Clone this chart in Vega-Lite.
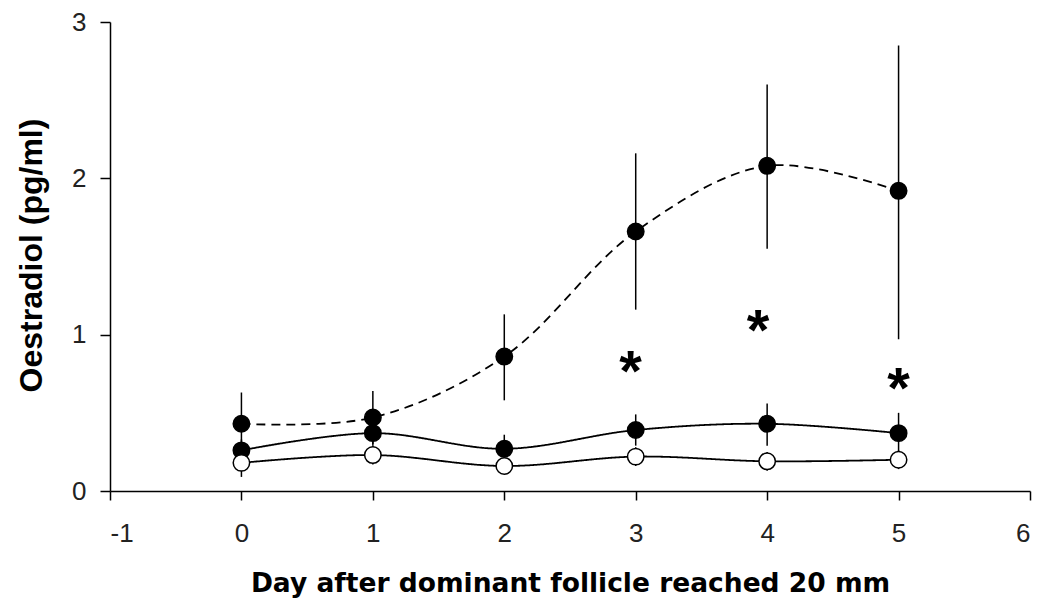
{
  "$schema": "https://vega.github.io/schema/vega-lite/v6.json",
  "width": 920,
  "height": 469,
  "autosize": {"type": "none"},
  "padding": {"left": 110, "top": 22, "right": 12, "bottom": 114},
  "background": "white",
  "config": {
    "view": {"stroke": null},
    "axis": {
      "domainColor": "black",
      "domainWidth": 1.5,
      "tickColor": "black",
      "tickWidth": 1.5,
      "grid": false,
      "labelColor": "#222222",
      "titleColor": "black",
      "labelFont": "Liberation Sans",
      "labelFontSize": 26,
      "labelExpr": "'' + datum.value"
    }
  },
  "datasets": {
    "groups": [
      {"day": 0, "group": "A", "mean": 0.43, "lo": 0.23, "hi": 0.63},
      {"day": 1, "group": "A", "mean": 0.47, "lo": 0.30, "hi": 0.64},
      {"day": 2, "group": "A", "mean": 0.86, "lo": 0.58, "hi": 1.13},
      {"day": 3, "group": "A", "mean": 1.66, "lo": 1.16, "hi": 2.16},
      {"day": 4, "group": "A", "mean": 2.08, "lo": 1.55, "hi": 2.60},
      {"day": 5, "group": "A", "mean": 1.92, "lo": 0.97, "hi": 2.85},
      {"day": 0, "group": "B", "mean": 0.26, "lo": 0.19, "hi": 0.33},
      {"day": 1, "group": "B", "mean": 0.37, "lo": 0.29, "hi": 0.45},
      {"day": 2, "group": "B", "mean": 0.27, "lo": 0.18, "hi": 0.36},
      {"day": 3, "group": "B", "mean": 0.39, "lo": 0.29, "hi": 0.49},
      {"day": 4, "group": "B", "mean": 0.43, "lo": 0.29, "hi": 0.56},
      {"day": 5, "group": "B", "mean": 0.37, "lo": 0.24, "hi": 0.50},
      {"day": 0, "group": "C", "mean": 0.18, "lo": 0.09, "hi": 0.27},
      {"day": 1, "group": "C", "mean": 0.23, "lo": 0.17, "hi": 0.29},
      {"day": 2, "group": "C", "mean": 0.16, "lo": 0.11, "hi": 0.21},
      {"day": 3, "group": "C", "mean": 0.22, "lo": 0.16, "hi": 0.28},
      {"day": 4, "group": "C", "mean": 0.19, "lo": 0.13, "hi": 0.25},
      {"day": 5, "group": "C", "mean": 0.20, "lo": 0.14, "hi": 0.26}
    ],
    "significance": [
      {"day": 2.96, "level": 0.84, "mark": "*"},
      {"day": 3.93, "level": 1.1, "mark": "*"},
      {"day": 5.0, "level": 0.73, "mark": "*"}
    ]
  },
  "data": {"name": "groups"},
  "encoding": {
    "x": {
      "field": "day",
      "type": "quantitative",
      "scale": {"domain": [-1, 6], "nice": false, "zero": false},
      "axis": {
        "values": [-1, 0, 1, 2, 3, 4, 5, 6],
        "tickSize": 9,
        "labelPadding": 20,
        "title": "Day after dominant follicle reached 20 mm",
        "titleFont": "DejaVu Sans",
        "titleFontWeight": "bold",
        "titleFontSize": 26.5,
        "titleBaseline": "alphabetic",
        "titleY": 100
      }
    }
  },
  "layer": [
    {
      "mark": {"type": "rule", "color": "black", "strokeWidth": 1.5},
      "encoding": {
        "y": {
          "field": "lo",
          "type": "quantitative",
          "scale": {"domain": [0, 3], "nice": false},
          "axis": {
            "values": [0, 1, 2, 3],
            "tickSize": 10,
            "labelPadding": 14,
            "title": "Oestradiol (pg/ml)",
            "titleFont": "Liberation Sans",
            "titleFontWeight": "bold",
            "titleFontSize": 32,
            "titleX": -79,
            "titleY": 233,
            "titleBaseline": "middle"
          }
        },
        "y2": {"field": "hi"}
      }
    },
    {
      "mark": {"type": "line", "interpolate": "catmull-rom", "color": "black", "strokeWidth": 1.8},
      "encoding": {
        "y": {"field": "mean", "type": "quantitative"},
        "detail": {"field": "group"},
        "strokeDash": {
          "field": "group",
          "type": "nominal",
          "scale": {"domain": ["A", "B", "C"], "range": [[9, 6], [1, 0], [1, 0]]},
          "legend": null
        }
      }
    },
    {
      "mark": {"type": "point", "shape": "circle", "filled": false, "stroke": "black", "strokeWidth": 1.5, "opacity": 1},
      "encoding": {
        "y": {"field": "mean", "type": "quantitative"},
        "fill": {
          "field": "group",
          "type": "nominal",
          "scale": {"domain": ["A", "B", "C"], "range": ["black", "black", "white"]},
          "legend": null
        },
        "size": {
          "field": "group",
          "type": "nominal",
          "scale": {"domain": ["A", "B", "C"], "range": [270, 270, 210]},
          "legend": null
        }
      }
    },
    {
      "data": {"name": "significance"},
      "mark": {"type": "text", "font": "Liberation Sans", "fontWeight": "bold", "fontSize": 58, "baseline": "alphabetic", "dy": 31, "color": "black"},
      "encoding": {
        "y": {"field": "level", "type": "quantitative"},
        "text": {"field": "mark"}
      }
    }
  ]
}
